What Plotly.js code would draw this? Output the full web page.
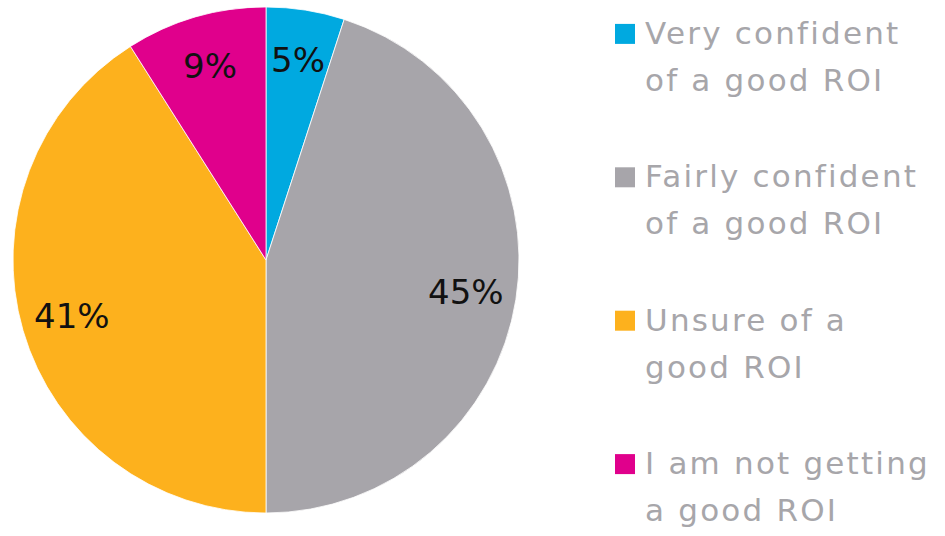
<!DOCTYPE html>
<html>
<head>
<meta charset="utf-8">
<script src="https://cdn.plot.ly/plotly-3.0.1.min.js"></script>
<style>
html,body{margin:0;padding:0;background:#fff;}
.legendtext{letter-spacing:2.2px;}
</style>
</head>
<body>
<div id="chart" style="width:945px;height:536px;"></div>
<script>
// Categories (each label as its two printed lines)
const labelLines = [
  ["Very confident", "of a good ROI"],
  ["Fairly confident", "of a good ROI"],
  ["Unsure of a", "good ROI"],
  ["I am not getting", "a good ROI"]
];
const values = [5, 45, 41, 9];
const colors = ["#00A9E0", "#A7A5AA", "#FDB11D", "#E0008C"];

const W = 945, H = 536;
const FONT = "'DejaVu Sans', sans-serif";
const legendGlyphSize = 31;

// legend text: two printed lines plus a blank spacer line
const labels = labelLines.map(function (lines) {
  return lines.map(function (t) {
    return "<span style='font-size:" + legendGlyphSize + "px'>" + t + "</span>";
  }).join("<br>") + "<br> ";
});

const dom = {x: [13 / W, 519 / W], y: [(H - 513) / H, (H - 7) / H]};
const trace = {
  type: "pie",
  labels: labels,
  values: values,
  sort: false,
  direction: "clockwise",
  rotation: 0,
  marker: {colors: colors, line: {color: "#ffffff", width: 0.8}},
  textinfo: "none",
  hoverinfo: "none",
  domain: dom
};

// percentage labels placed at slice mid-angles
const total = values.reduce(function (a, b) { return a + b; }, 0);
const cx = (dom.x[0] + dom.x[1]) / 2, cy = (dom.y[0] + dom.y[1]) / 2;
const R = (dom.x[1] - dom.x[0]) * W / 2;
const rFrac = 0.8;
let cum = 0;
const annotations = values.map(function (v) {
  const mid = (cum + v / 2) / total * 2 * Math.PI;
  cum += v;
  const dx = Math.sin(mid) * R * rFrac;
  const dy = Math.cos(mid) * R * rFrac;
  return {
    xref: "paper", yref: "paper",
    x: cx + dx / W, y: cy + dy / H,
    xanchor: "center", yanchor: "middle",
    text: Math.round(v / total * 100) + "%",
    showarrow: false,
    font: {family: FONT, size: 34, color: "#111111"}
  };
});

const layout = {
  width: W, height: H,
  margin: {l: 0, r: 0, t: 0, b: 0},
  paper_bgcolor: "#ffffff",
  showlegend: true,
  annotations: annotations,
  legend: {
    x: 605 / W, xanchor: "left",
    y: 1 - 22 / H, yanchor: "top",
    valign: "top",
    font: {family: FONT, size: 36, color: "#A7A6AA"},
    itemclick: false, itemdoubleclick: false
  }
};

Plotly.newPlot("chart", [trace], layout, {staticPlot: true}).then(function (gd) {
  gd.querySelectorAll(".legendpoints path").forEach(function (p) {
    p.setAttribute("d", "M10,14H-10V-6H10Z");
    p.style.strokeWidth = "0px";
  });
});
</script>
</body>
</html>
